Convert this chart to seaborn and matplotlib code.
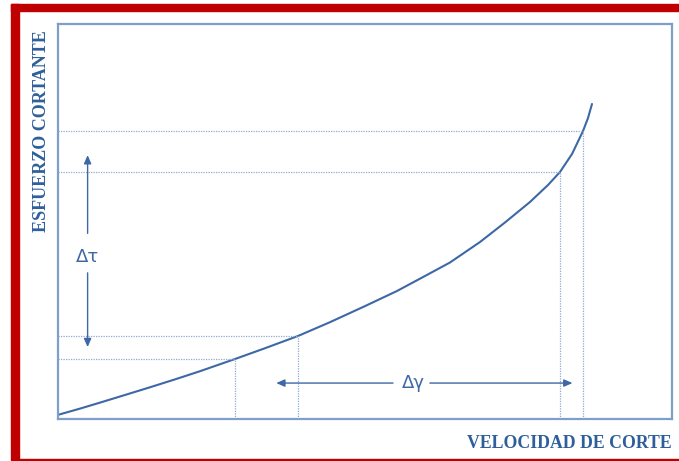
import matplotlib
matplotlib.use("Agg")
import matplotlib.pyplot as plt
from matplotlib.patches import Rectangle
import pandas as pd
import seaborn as sns

# Flow curve: shear stress vs. shear rate (arbitrary units, 0-100 on both axes)
shear_rate = [0.0, 3.66, 6.92, 10.98, 15.05, 19.12, 23.19, 28.89, 33.77, 39.13,
              44.34, 50.04, 55.25, 59.80, 63.87, 68.76, 72.82, 76.89, 79.82,
              81.77, 83.73, 85.52, 86.33, 86.98]
shear_stress = [1.01, 2.63, 4.15, 6.08, 8.03, 10.03, 12.10, 15.19, 17.92, 21.01,
                24.51, 28.58, 32.41, 36.20, 39.62, 44.81, 49.75, 54.94, 59.24,
                62.53, 67.09, 72.91, 76.20, 79.75]

# Reference points marked with dotted guides
guide_x = [28.89, 39.13, 81.77, 85.52]
guide_y = [15.19, 21.01, 62.53, 72.91]

# Delta-tau (vertical) and delta-gamma (horizontal) arrows
tau_x, tau_low, tau_high, tau_label_y = 4.9, 18.2, 66.8, 41.0
gamma_y, gamma_low, gamma_high, gamma_label_x = 9.1, 35.6, 83.8, 57.9

x_label = "VELOCIDAD DE CORTE"
y_label = "ESFUERZO CORTANTE"

sns.set_style("white")
plt.rcParams["font.family"] = ["DejaVu Sans"]

frame_blue = "#7f9fcb"
line_blue = "#3d68a5"
guide_blue = "#8fabd2"
label_blue = "#2f5f9b"
red = "#c00000"

fig = plt.figure(figsize=(6.79, 4.61), dpi=100)
W, H = 679, 461
ax = fig.add_axes([57.5 / W, (H - 419) / H, 614.5 / W, 395 / H])

df = pd.DataFrame({"rate": shear_rate, "stress": shear_stress})
sns.lineplot(data=df, x="rate", y="stress", sort=False, ax=ax,
             color=line_blue, lw=1.5, estimator=None)

for gx, gy in zip(guide_x, guide_y):
    ax.plot([0, gx], [gy, gy], ls=(0, (1, 1.0)), color=guide_blue, lw=0.9)
    ax.plot([gx, gx], [0, gy], ls=(0, (1, 1.0)), color=guide_blue, lw=0.9)

ax.set_xlim(0, 100)
ax.set_ylim(0, 100)
ax.set_xticks([])
ax.set_yticks([])
ax.set_xlabel("")
ax.set_ylabel("")
for s in ax.spines.values():
    s.set_color(frame_blue)
    s.set_linewidth(1.6)

arrow_kw = dict(arrowstyle="-|>,head_length=0.5,head_width=0.22",
                color=line_blue, lw=1.0, shrinkA=0, shrinkB=0)
ax.annotate("", xy=(tau_x, tau_high), xytext=(tau_x, tau_label_y + 6.0), arrowprops=arrow_kw)
ax.annotate("", xy=(tau_x, tau_low), xytext=(tau_x, tau_label_y - 4.0), arrowprops=arrow_kw)
ax.text(tau_x, tau_label_y, "Δτ", ha="center", va="center", fontsize=13,
        color=line_blue, family=["DejaVu Sans"])

ax.annotate("", xy=(gamma_low, gamma_y), xytext=(gamma_label_x - 3.3, gamma_y), arrowprops=arrow_kw)
ax.annotate("", xy=(gamma_high, gamma_y), xytext=(gamma_label_x + 2.7, gamma_y), arrowprops=arrow_kw)
ax.text(gamma_label_x, gamma_y, "Δγ", ha="center", va="center", fontsize=13,
        color=line_blue, family=["DejaVu Sans"])

fig.text(672 / W, 1 - 443 / H, x_label, ha="right", va="center", fontsize=12.8,
         fontweight="bold", color=label_blue, family=["Liberation Serif"])
fig.text(42 / W, 1 - 131 / H, y_label, ha="center", va="center", rotation=90,
         fontsize=13, fontweight="bold", color=label_blue, family=["Liberation Serif"])

# Red page frame
fig.patches.append(Rectangle((11 / W, 1 - 11.5 / H), (W - 11) / W, 7.5 / H,
                             transform=fig.transFigure, color=red, zorder=0))
fig.patches.append(Rectangle((11 / W, 1 - 459.5 / H), 8 / W, 455.5 / H,
                             transform=fig.transFigure, color=red, zorder=0))
fig.patches.append(Rectangle((19 / W, 1 - 459.8 / H), (W - 19) / W, 1.3 / H,
                             transform=fig.transFigure, color=red, zorder=0))

fig.savefig("out.png", dpi=100)
